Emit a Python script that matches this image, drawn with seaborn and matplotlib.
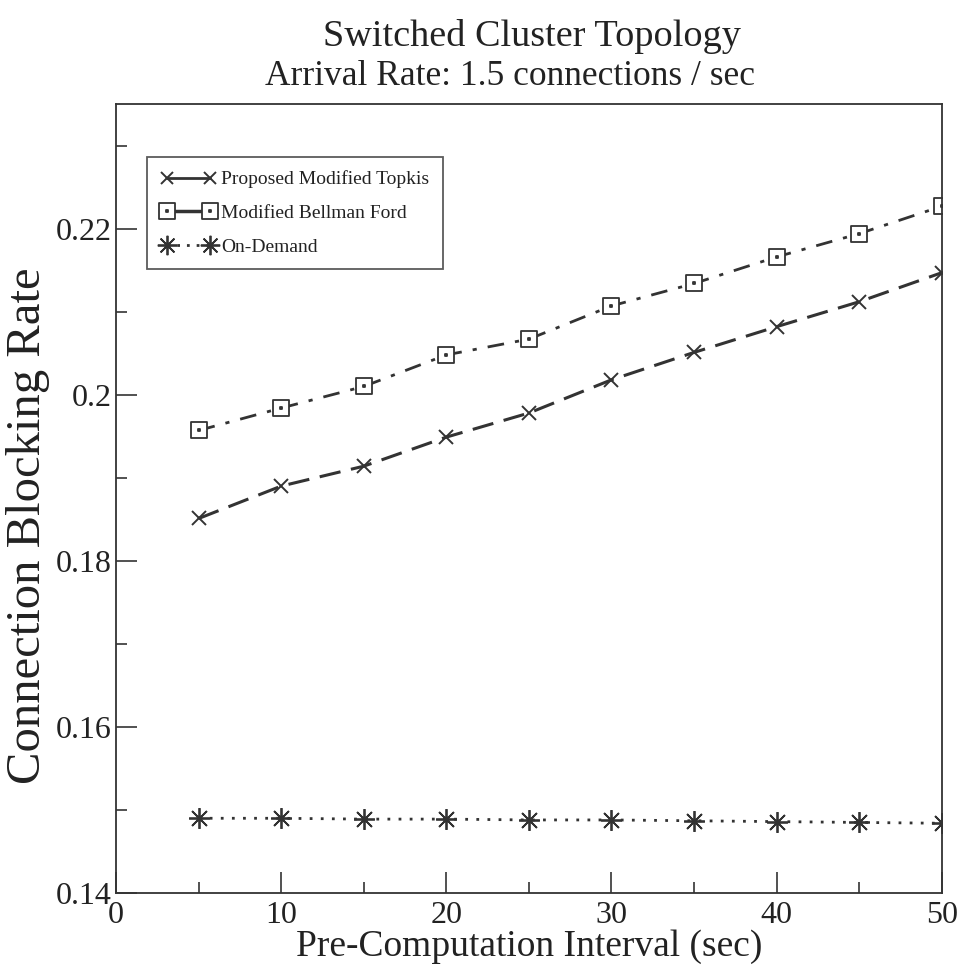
import matplotlib
matplotlib.use("Agg")
import matplotlib.pyplot as plt
import seaborn as sns
import pandas as pd
from matplotlib.lines import Line2D
from matplotlib.path import Path
from matplotlib.ticker import MultipleLocator

intervals = [5, 10, 15, 20, 25, 30, 35, 40, 45, 50]
topkis = [0.1851, 0.1890, 0.1914, 0.1949, 0.1978, 0.2018, 0.2051, 0.2082, 0.2112, 0.2147]
bellman = [0.1957, 0.1984, 0.2010, 0.2048, 0.2067, 0.2107, 0.2134, 0.2166, 0.2194, 0.2227]
ondemand = [0.1490, 0.1490, 0.1489, 0.1489, 0.1488, 0.1488, 0.1487, 0.1486, 0.1485, 0.1484]
labels = ["Proposed Modified Topkis", "Modified Bellman Ford", "On-Demand"]

sns.set_theme(style="white")
plt.rcParams['font.family'] = ['Liberation Serif', 'DejaVu Serif']

col = '#333333'
tcol = '#222222'

# square with a dot in the centre
sq_dot = Path(
    [(-1, -1), (1, -1), (1, 1), (-1, 1), (-1, -1),
     (-0.08, -0.08), (0.08, -0.08), (0.08, 0.08), (-0.08, 0.08), (-0.08, -0.08)],
    [Path.MOVETO, Path.LINETO, Path.LINETO, Path.LINETO, Path.CLOSEPOLY,
     Path.MOVETO, Path.LINETO, Path.LINETO, Path.LINETO, Path.CLOSEPOLY])

fig = plt.figure(figsize=(9.62, 9.73), dpi=100)
ax = fig.add_axes([0.1206, 0.0822, 0.8584, 0.8108])

df = pd.DataFrame({"x": intervals, "topkis": topkis, "bellman": bellman, "ondemand": ondemand})

ls_topkis = (0, (7, 3.5))
ls_bell = (0, (6, 4, 1.5, 4))
ls_od = (0, (1, 3))

sns.lineplot(data=df, x="x", y="topkis", ax=ax, color=col, lw=2.2,
             linestyle=ls_topkis, marker='x', markersize=10,
             markeredgewidth=1.4, markeredgecolor=col)
sns.lineplot(data=df, x="x", y="bellman", ax=ax, color=col, lw=2.0,
             linestyle=ls_bell, marker=sq_dot, markersize=12,
             markerfacecolor='white', markeredgewidth=1.3, markeredgecolor=col)
sns.lineplot(data=df, x="x", y="ondemand", ax=ax, color=col, lw=2.0,
             linestyle=ls_od, marker=(8, 2, 0), markersize=15,
             markeredgewidth=1.3, markeredgecolor=col)

ax.set_xlim(0, 50)
ax.set_ylim(0.14, 0.235)
ax.xaxis.set_major_locator(MultipleLocator(10))
ax.xaxis.set_minor_locator(MultipleLocator(5))
ax.yaxis.set_minor_locator(MultipleLocator(0.01))
ax.set_yticks([0.14, 0.16, 0.18, 0.2, 0.22])
ax.set_yticklabels(["0.14", "0.16", "0.18", "0.2", "0.22"])
ax.tick_params(which='major', direction='in', length=15, width=1.2, color=col,
               labelsize=23, labelcolor=tcol, top=False, right=False, left=True, bottom=True, pad=3)
ax.tick_params(which='minor', direction='in', length=8, width=1.2, color=col,
               top=False, right=False, left=True, bottom=True)
ax.tick_params(axis='x', pad=6)
for s in ax.spines.values():
    s.set_color(col)
    s.set_linewidth(1.3)

ax.set_xlabel("Pre-Computation Interval (sec)", fontsize=27, color=tcol, labelpad=-1)
ax.set_ylabel("Connection Blocking Rate", fontsize=35, color=tcol)
ax.yaxis.set_label_coords(-0.08, 0.465)

fig.text(0.553, 0.962, "Switched Cluster Topology", ha='center', va='center',
         fontsize=27.5, color=tcol)
fig.text(0.530, 0.921, "Arrival Rate: 1.5 connections / sec", ha='center', va='center',
         fontsize=25.5, color=tcol)

h1 = Line2D([], [], color=col, lw=2.0, linestyle='-', marker='x', markersize=9,
            markeredgewidth=1.4)
h2 = Line2D([], [], color=col, lw=2.5, linestyle='-', marker=sq_dot, markersize=11,
            markerfacecolor='white', markeredgewidth=1.3)
h3 = Line2D([], [], color=col, lw=2.0, linestyle=(0, (1, 2.5)), marker=(8, 2, 0),
            markersize=14, markeredgewidth=1.3)
leg = ax.legend([h1, h2, h3], labels, loc='upper left',
                bbox_to_anchor=(0.038, 0.933), fontsize=14, frameon=True, fancybox=False,
                handlelength=2.8, handletextpad=0.3, borderpad=0.7, labelspacing=0.82,
                numpoints=2, borderaxespad=0)
leg.get_frame().set_edgecolor(col)
leg.get_frame().set_linewidth(1.3)
for t in leg.get_texts():
    t.set_color(tcol)

fig.savefig("out.png", dpi=100)
